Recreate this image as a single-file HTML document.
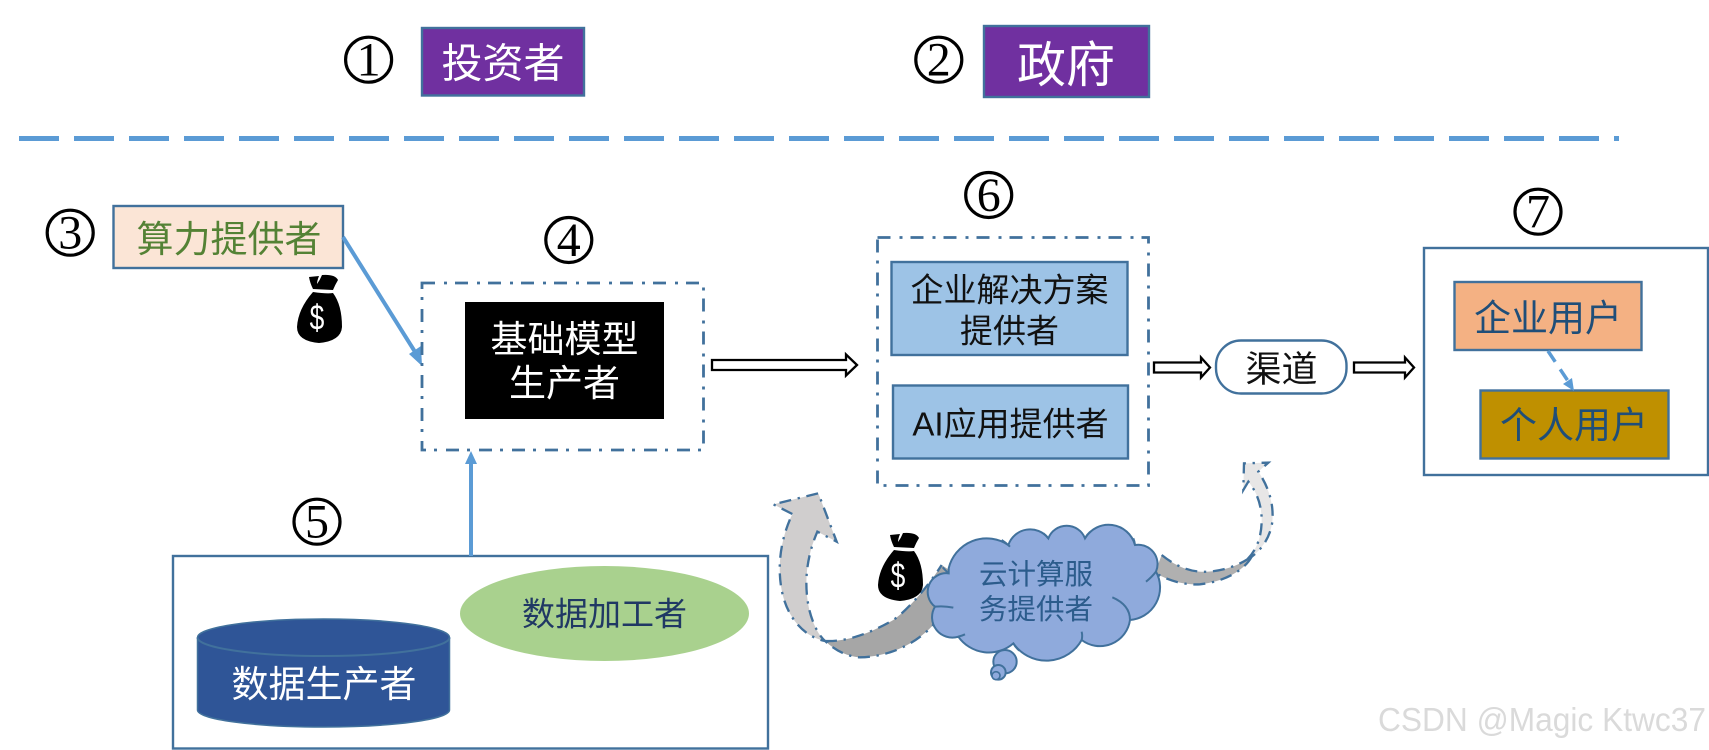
<!DOCTYPE html>
<html lang="zh">
<head>
<meta charset="utf-8">
<title>AI产业链</title>
<style>
html,body{margin:0;padding:0;background:#fff;width:1709px;height:750px;overflow:hidden}
svg{display:block}
.c{font-family:"Liberation Sans","Noto Sans CJK SC",sans-serif;text-anchor:middle}
.n{font-family:"Liberation Serif",serif;text-anchor:middle;font-size:48px;fill:#000}
.o{fill:none;stroke:#000;stroke-width:3.2}
.b{stroke:#41719c;stroke-width:2.4}
.dd{fill:none;stroke:#41719c;stroke-width:2.8;stroke-dasharray:13 9 3 8}
.ar{fill:#fff;stroke:#000;stroke-width:2.3}
</style>
</head>
<body>
<svg width="1709" height="750" viewBox="0 0 1709 750" xmlns="http://www.w3.org/2000/svg">
<rect width="1709" height="750" fill="#fff"/>

<!-- numbers -->
<ellipse class="o" cx="368.6" cy="59.7" rx="23" ry="22.5"/><text class="n" x="368.6" y="75.7">1</text>
<ellipse class="o" cx="938.8" cy="59.7" rx="23" ry="22.5"/><text class="n" x="938.8" y="75.7">2</text>
<ellipse class="o" cx="70.2" cy="232.7" rx="23" ry="22.5"/><text class="n" x="70.2" y="248.7">3</text>
<ellipse class="o" cx="568.8" cy="240" rx="23" ry="22.5"/><text class="n" x="568.8" y="256">4</text>
<ellipse class="o" cx="317" cy="521.7" rx="23" ry="22.5"/><text class="n" x="317" y="537.7">5</text>
<ellipse class="o" cx="988.7" cy="195" rx="23" ry="22.5"/><text class="n" x="988.7" y="211">6</text>
<ellipse class="o" cx="1538" cy="211.7" rx="23" ry="22.5"/><text class="n" x="1538" y="227.7">7</text>

<!-- top boxes -->
<rect class="b" x="422" y="28" width="162" height="67.5" fill="#7030a0"/>
<text class="c" x="503" y="77.5" font-size="41" fill="#fff">投资者</text>
<rect class="b" x="984" y="26" width="165" height="71" fill="#7030a0"/>
<text class="c" x="1066" y="82" font-size="49" fill="#fff">政府</text>

<!-- divider -->
<line x1="19" y1="138.5" x2="1619" y2="138.5" stroke="#5b9bd5" stroke-width="5" stroke-dasharray="40 15"/>

<!-- compute provider -->
<rect class="b" x="113.5" y="206" width="229.5" height="62" fill="#fbe5d6"/>
<text class="c" x="229" y="252" font-size="37" fill="#548235">算力提供者</text>
<line x1="343" y1="237" x2="417" y2="355" stroke="#5b9bd5" stroke-width="4"/>
<polygon points="422,366 409,354 421,346" fill="#5b9bd5"/>

<!-- bag 1 -->
<g transform="translate(297,275)">
<path d="M12,2 L22,1 Q20,6 20,9 Q23,5 25,0 Q38,-1 41,5 Q38,10 36,15 L16,14 Q13,8 12,2z" fill="#000"/>
<path d="M16,17 Q30,19 36,18 Q45,30 45,52 Q44,66 22,68 Q0,66 0,52 Q1,34 16,17z" fill="#000"/>
<text x="20" y="53" transform="translate(20,43) scale(.85,1.15) translate(-20,-43)" font-family="'Liberation Sans',sans-serif" font-size="31" fill="#fff" text-anchor="middle">$</text>
</g>

<!-- model box -->
<rect class="dd" x="422" y="283" width="281.5" height="167"/>
<rect x="465" y="302" width="199" height="117" fill="#000"/>
<text class="c" x="564.5" y="352" font-size="37" fill="#fff">基础模型</text>
<text class="c" x="564.5" y="396" font-size="37" fill="#fff">生产者</text>

<!-- hollow arrows -->
<polygon class="ar" points="712,360 846,360 846,354.5 857,365 846,375.5 846,370 712,370"/>
<polygon class="ar" points="1154,362.5 1201,362.5 1201,357.5 1210,367.5 1201,377.5 1201,372.5 1154,372.5"/>
<polygon class="ar" points="1354,362.5 1405,362.5 1405,357.5 1414,367.5 1405,377.5 1405,372.5 1354,372.5"/>

<!-- solutions -->
<rect class="dd" x="877.5" y="237.5" width="271" height="248"/>
<rect class="b" x="891.5" y="262" width="236" height="93" fill="#9dc3e6"/>
<text class="c" x="1009.5" y="301.5" font-size="33" fill="#111">企业解决方案</text>
<text class="c" x="1009.5" y="342.5" font-size="33" fill="#111">提供者</text>
<rect class="b" x="893" y="385.5" width="235" height="73" fill="#9dc3e6"/>
<text class="c" x="1010.5" y="435.5" font-size="33" fill="#111">AI应用提供者</text>

<!-- channel -->
<rect class="b" x="1216" y="340.5" width="130.5" height="53" rx="25" ry="25" fill="#fff"/>
<text class="c" x="1281.5" y="381.7" font-size="36" fill="#111">渠道</text>

<!-- users -->
<rect class="b" x="1424" y="248" width="284" height="227" fill="#fff"/>
<rect class="b" x="1454.5" y="282" width="187" height="68" fill="#f4b183"/>
<text class="c" x="1548" y="331" font-size="37" fill="#1f4e79">企业用户</text>
<rect class="b" x="1480.5" y="390.5" width="188" height="68" fill="#bf9000"/>
<text class="c" x="1574" y="438" font-size="37" fill="#1f4e79">个人用户</text>
<line x1="1548" y1="351" x2="1568" y2="381" stroke="#5b9bd5" stroke-width="3.5" stroke-dasharray="13 9"/>
<polygon points="1574,391 1563,384 1572,378" fill="#5b9bd5"/>

<!-- data group -->
<rect class="b" x="173" y="556" width="595" height="192.5" fill="#fff" stroke-width="2.5"/>
<line x1="471" y1="556" x2="471" y2="460" stroke="#5b9bd5" stroke-width="4"/>
<polygon points="471,451 465,464 477,464" fill="#5b9bd5"/>
<ellipse cx="604.5" cy="613.5" rx="144.5" ry="47.5" fill="#a9d18e"/>
<text class="c" x="604.5" y="625.5" font-size="33" fill="#203864">数据加工者</text>
<path d="M197.5,637.5 A126,18.5 0 0 1 449.5,637.5 V710 A126,17 0 0 1 197.5,710 Z" fill="#2f5597" stroke="#41719c" stroke-width="1.5"/>
<path d="M197.5,637.5 A126,18.5 0 0 0 449.5,637.5" fill="none" stroke="#41719c" stroke-width="2"/>
<text class="c" x="324" y="697" font-size="37" fill="#fff">数据生产者</text>

<!-- curved arrows and cloud -->
<g transform="translate(760,440) scale(0.33333)">
  <path d="M195,603 C260,606 330,580 400,540 C450,505 510,430 545,375 L575,395 L540,530 C490,600 400,650 300,652 C265,650 230,635 195,603Z" fill="#a6a6a6"/>
  <path d="M195,603 C260,606 330,580 400,540 C450,505 510,430 545,375 M540,530 C490,600 400,650 300,652 C265,650 230,635 195,603" fill="none" stroke="#41719c" stroke-width="7" stroke-dasharray="36 20 7 20"/>
  <path d="M97,222 L40,193 L175,160 L230,305 L172,275 C140,350 130,430 148,510 C158,550 175,585 195,603 C130,590 80,530 65,450 C50,370 65,290 97,222Z" fill="#d0cece" stroke="#41719c" stroke-width="7" stroke-dasharray="36 20 7 20"/>

  <path d="M1205,345 C1255,385 1300,398 1345,395 C1390,392 1430,378 1462,358 L1475,350 C1450,395 1390,425 1320,433 C1270,436 1220,420 1185,398Z" fill="#b0b0b0"/>
  <path d="M1205,345 C1255,385 1300,398 1345,395 C1390,392 1430,378 1462,358 M1475,350 C1450,395 1390,425 1320,433 C1270,436 1220,420 1185,398" fill="none" stroke="#41719c" stroke-width="7" stroke-dasharray="36 20 7 20"/>
  <path d="M1462,358 C1490,330 1505,290 1505,240 C1505,195 1490,155 1465,125 L1450,150 L1452,70 L1525,68 L1495,95 C1525,140 1542,190 1537,245 C1532,285 1510,325 1475,350Z" fill="#e7e6e6" stroke="#41719c" stroke-width="7" stroke-dasharray="36 20 7 20"/>

  <path d="M566,385 A117,117 0 0 1 745,315 A69,69 0 0 1 865,295 A59,59 0 0 1 975,295 A82,82 0 0 1 1125,315 A58,58 0 0 1 1188,395 A98,98 0 0 1 1110,540 A91,91 0 0 1 965,600 A121,121 0 0 1 760,610 A112,112 0 0 1 595,590 A61,61 0 0 1 525,500 A56,56 0 0 1 566,400 Z" fill="#8faadc" stroke="#41719c" stroke-width="6"/>
  <path d="M725,300 Q738,308 750,320 M865,295 Q858,286 850,280 M975,295 Q982,282 992,275 M1125,315 Q1124,304 1120,295 M1188,395 Q1175,412 1158,425 M1057,472 Q1110,495 1110,540 M965,600 Q968,588 965,575 M760,610 Q766,622 778,632 M595,590 Q605,588 615,583 M525,500 Q552,497 580,503 M566,400 Q557,392 548,382" fill="none" stroke="#41719c" stroke-width="6"/>
  <circle cx="735" cy="665" r="35" fill="#8faadc" stroke="#41719c" stroke-width="6"/>
  <circle cx="715" cy="697" r="22" fill="#8faadc" stroke="#41719c" stroke-width="6"/>
  <circle cx="708" cy="707" r="12" fill="#8faadc" stroke="#41719c" stroke-width="5"/>
</g>
<text class="c" x="1036" y="584" font-size="28.5" fill="#2c5c8c">云计算服</text>
<text class="c" x="1036" y="619" font-size="28.5" fill="#2c5c8c">务提供者</text>

<!-- bag 2 -->
<g transform="translate(878,533)">
<path d="M12,2 L22,1 Q20,6 20,9 Q23,5 25,0 Q38,-1 41,5 Q38,10 36,15 L16,14 Q13,8 12,2z" fill="#000"/>
<path d="M16,17 Q30,19 36,18 Q45,30 45,52 Q44,66 22,68 Q0,66 0,52 Q1,34 16,17z" fill="#000"/>
<text x="20" y="53" transform="translate(20,43) scale(.85,1.15) translate(-20,-43)" font-family="'Liberation Sans',sans-serif" font-size="31" fill="#fff" text-anchor="middle">$</text>
</g>

<!-- watermark -->
<text x="1378" y="731" font-family="'Liberation Sans',sans-serif" font-size="33" fill="#dadada" textLength="328" lengthAdjust="spacingAndGlyphs">CSDN @Magic Ktwc37</text>
</svg>
</body>
</html>
